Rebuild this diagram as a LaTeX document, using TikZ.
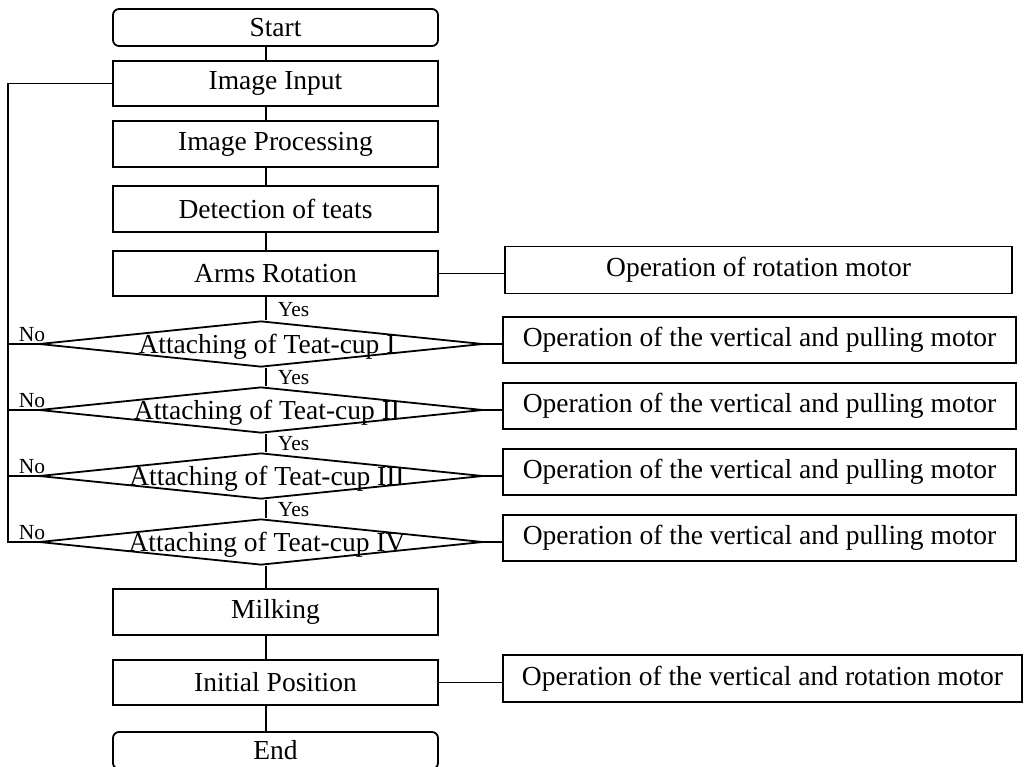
\documentclass[tikz,border=0pt]{standalone}
\usepackage{fontspec}
\setmainfont{Liberation Serif}
\usepackage{tikz}
\usetikzlibrary{shapes.geometric}
\tikzstyle{startstop} = [rectangle, rounded corners=6pt, minimum width=325pt, minimum height=37pt, text centered, draw=black, inner sep=0pt]
\tikzstyle{process} = [rectangle, minimum width=325pt, minimum height=45.5pt, text centered, draw=black, inner sep=0pt]
\tikzstyle{decision} = [diamond, minimum width=444pt, minimum height=46pt, inner sep=0pt, draw=black]
\tikzstyle{motor} = [rectangle, minimum width=513pt, minimum height=46pt, text centered, draw=black, inner sep=0pt]
\tikzstyle{yesno} = [font=\fontsize{21.5}{25}\selectfont, inner sep=1pt]
\tikzstyle{conn} = [line width=1.8pt]

\begin{document}
\begin{tikzpicture}[node distance=66pt, x=1pt, y=1pt, line width=1.8pt, font=\fontsize{27.5}{33}\selectfont]
\useasboundingbox (0,0) rectangle (1027,-766);
\node (start) [startstop] at (275.5,-27.5) {Start};
\node (input) [process, below of=start, yshift=10pt] {Image Input};
\node (proc) [process, below of=input, yshift=5.5pt] {Image Processing};
\node (detect) [process, below of=proc, yshift=1pt] {Detection of teats};
\node (arms) [process, below of=detect, yshift=1.5pt] {Arms Rotation};
\node (d1) [decision, below of=arms, xshift=-14.5pt, yshift=-4.5pt, label={[xshift=6pt, yshift=-3pt]center:Attaching of Teat-cup I}] {};
\node (d2) [decision, below of=d1, label={[xshift=6pt, yshift=-3pt]center:Attaching of Teat-cup II}] {};
\node (d3) [decision, below of=d2, label={[xshift=6pt, yshift=-3pt]center:Attaching of Teat-cup III}] {};
\node (d4) [decision, below of=d3, label={[xshift=6pt, yshift=-3pt]center:Attaching of Teat-cup IV}] {};
\node (milk) [process, below of=d4, xshift=14.5pt, yshift=-4pt] {Milking};
\node (init) [process, below of=milk, yshift=-4.5pt] {Initial Position};
\node (end) [startstop, below of=init, yshift=-2pt] {End};

\node (op1) [motor, right of=arms, xshift=417pt, yshift=3.5pt, minimum width=507pt, minimum height=47pt] {Operation of rotation motor};
\node (op2) [motor, right of=d1, xshift=432.5pt, yshift=4pt] {Operation of the vertical and pulling motor};
\node (op3) [motor, right of=d2, xshift=432.5pt, yshift=4pt] {Operation of the vertical and pulling motor};
\node (op4) [motor, right of=d3, xshift=432.5pt, yshift=4pt] {Operation of the vertical and pulling motor};
\node (op5) [motor, right of=d4, xshift=432.5pt, yshift=4pt] {Operation of the vertical and pulling motor};
\node (op6) [motor, right of=init, xshift=421pt, yshift=4pt, minimum width=519pt, minimum height=47pt] {Operation of the vertical and rotation motor};

\coordinate (spine) at ([xshift=-9.5pt]start.center);
\coordinate (rail) at ([xshift=-104pt]input.west);

\foreach \a/\b in {start/input, input/proc, proc/detect, detect/arms, d4/milk, milk/init, init/end}
  \draw [conn] (\a.south -| spine) -- (\b.north -| spine);
\foreach \a/\b in {arms/d1, d1/d2, d2/d3, d3/d4}
  \draw [conn] (\a.south -| spine) -- node[yesno, right, midway, xshift=10pt, yshift=-1pt] {Yes} (\b.north -| spine);

\draw [conn] (arms.east) -- (arms.east -| op1.west);
\draw [conn] (d1.east) -- (d1.east -| op2.west);
\draw [conn] (d2.east) -- (d2.east -| op3.west);
\draw [conn] (d3.east) -- (d3.east -| op4.west);
\draw [conn] (d4.east) -- (d4.east -| op5.west);
\draw [conn] (init.east) -- (init.east -| op6.west);

\draw [conn] (input.west) -- (input.west -| rail) -- (rail |- d4.west) -- node[yesno, above, pos=0.8] {No} (d4.west);
\draw [conn] (rail |- d1.west) -- node[yesno, above, pos=0.8] {No} (d1.west);
\draw [conn] (rail |- d2.west) -- node[yesno, above, pos=0.8] {No} (d2.west);
\draw [conn] (rail |- d3.west) -- node[yesno, above, pos=0.8] {No} (d3.west);

\end{tikzpicture}
\end{document}
